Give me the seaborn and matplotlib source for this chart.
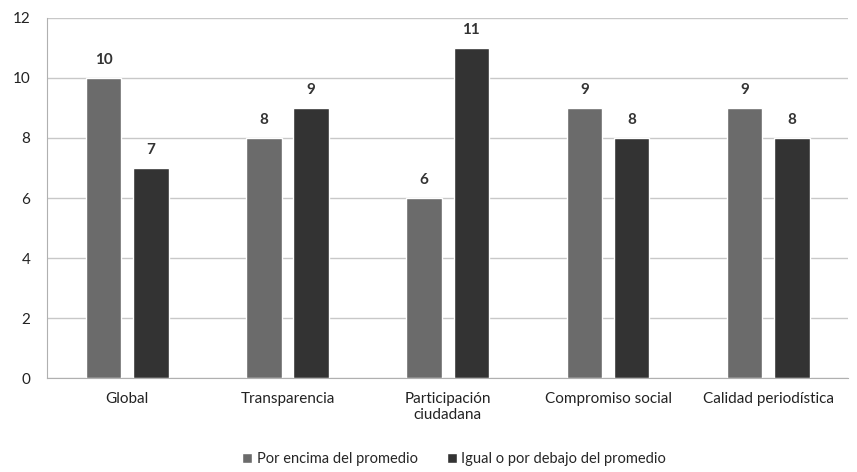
import pandas as pd
import matplotlib.pyplot as plt
import seaborn as sns

categories = ["Global", "Transparencia", "Participación\nciudadana", "Compromiso social", "Calidad periodística"]
por_encima = [10, 8, 6, 9, 9]
igual_o_debajo = [7, 9, 11, 8, 8]
series = ["Por encima del promedio", "Igual o por debajo del promedio"]

df = pd.DataFrame({
    "categoria": categories * 2,
    "valor": por_encima + igual_o_debajo,
    "serie": [series[0]] * 5 + [series[1]] * 5,
})

sns.set_style("white")
plt.rcParams['font.family'] = ['Lato', 'DejaVu Sans']

fig = plt.figure(figsize=(8.57, 4.72), dpi=100)
ax = fig.add_axes([0.055, 0.199, 0.935, 0.763])

sns.barplot(data=df, x="categoria", y="valor", hue="serie",
            palette=["#6b6b6b", "#333333"], width=0.59, gap=0.25,
            saturation=1, ax=ax, legend=True)

for c in ax.containers:
    ax.bar_label(c, padding=8, fontsize=11, color="#333333", fontweight="bold")

ax.set_ylim(0, 12)
ax.set_xlim(-0.5, 4.5)
ax.set_yticks(range(0, 13, 2))
ax.yaxis.grid(True, color="#c8c8c8", linewidth=1)
ax.set_axisbelow(True)
ax.set_xlabel("")
ax.set_ylabel("")
ax.tick_params(axis="both", labelsize=11, colors="#222222", length=0)
ax.tick_params(axis="x", pad=10)
ax.tick_params(axis="y", pad=12)
for s in ["top", "right"]:
    ax.spines[s].set_visible(False)
ax.spines["left"].set_color("#b0b0b0")
ax.spines["bottom"].set_color("#b0b0b0")

handles, labels = ax.get_legend_handles_labels()
ax.get_legend().remove()
fig.legend(handles, labels, loc="lower center", bbox_to_anchor=(0.53, -0.015), ncol=2, frameon=False,
           fontsize=10.5, handlelength=0.7, handleheight=0.7, handletextpad=0.3,
           columnspacing=2.0)

plt.savefig("out.png", dpi=100)
